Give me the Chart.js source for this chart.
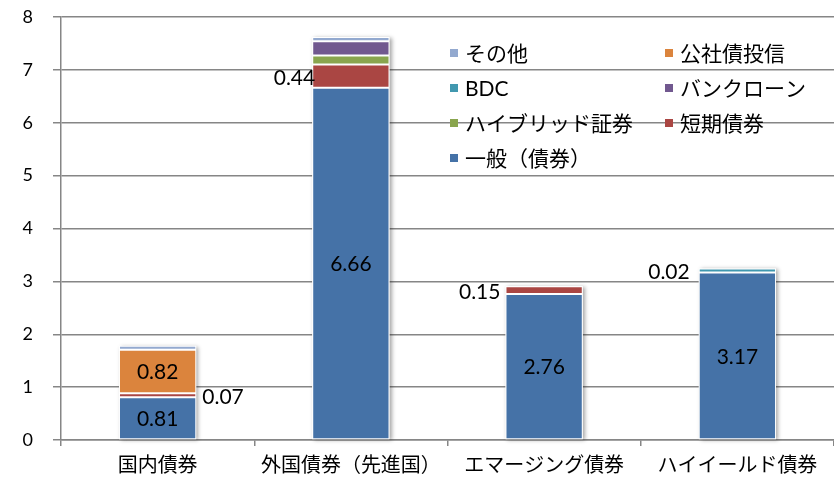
<!DOCTYPE html>
<html>
<head>
<meta charset="utf-8">
<script src="https://cdn.jsdelivr.net/npm/chart.js@4/dist/chart.umd.min.js"></script>
<style>
  html, body { margin: 0; background: #fff; }
</style>
</head>
<body>
<canvas id="chart" width="834" height="478"></canvas>
<script>
const categories = ['国内債券', '外国債券（先進国）', 'エマージング債券', 'ハイイールド債券'];

// stack order, bottom to top
const generalBond = [0.81, 6.66, 2.76, 3.17];
const shortTerm = [0.07, 0.44, 0.15, null];
const hybrid = [null, 0.17, null, null];
const bankLoan = [null, 0.27, null, null];
const bdc = [null, null, null, 0.02];
const bondFund = [0.82, null, null, null];
const others = [0.04, 0.08, null, null];

const yTicks = [0, 1, 2, 3, 4, 5, 6, 7, 8];

const FONT = "Lato, 'Noto Sans CJK JP', sans-serif";
const GRID = '#868686';

const series = [
  { label: '一般（債券）', data: generalBond, color: '#4572a7' },
  { label: '短期債券', data: shortTerm, color: '#aa4643' },
  { label: 'ハイブリッド証券', data: hybrid, color: '#89a54e' },
  { label: 'バンクローン', data: bankLoan, color: '#71588f' },
  { label: 'BDC', data: bdc, color: '#4198af' },
  { label: '公社債投信', data: bondFund, color: '#db843d' },
  { label: 'その他', data: others, color: '#93a9cf' },
];

// [series, category] labelled inside the segment
const insideLabels = [[0, 0], [5, 0], [0, 1], [0, 2], [0, 3]];
// [series, category, side, gap] labelled beside the bar
const sideLabels = [[1, 0, 'right', 6], [1, 1, 'left', -3], [1, 2, 'left', 5], [4, 3, 'left', 9]];

const fmt = (v) => v.toFixed(2);

const barShadow = {
  id: 'barShadow',
  beforeDatasetsDraw(chart) {
    const { ctx } = chart;
    const metas = chart.getSortedVisibleDatasetMetas();
    categories.forEach((_, i) => {
      let top = Infinity, base = null, x = null, w = null;
      metas.forEach((m) => {
        const el = m.data[i];
        if (!el || series[m.index].data[i] == null) return;
        top = Math.min(top, el.y);
        base = Math.max(base ?? el.base, el.base);
        x = el.x; w = el.width;
      });
      if (x == null) return;
      ctx.save();
      ctx.shadowColor = 'rgba(0,0,0,0.35)';
      ctx.shadowBlur = 4;
      ctx.shadowOffsetX = 2;
      ctx.shadowOffsetY = 1;
      ctx.fillStyle = '#fff';
      ctx.fillRect(x - w / 2, top, w, base - top);
      ctx.restore();
    });
  },
};

const valueLabels = {
  id: 'valueLabels',
  afterDatasetsDraw(chart) {
    const { ctx } = chart;
    ctx.save();
    ctx.font = `21px ${FONT}`;
    ctx.fillStyle = '#000';
    ctx.textBaseline = 'middle';
    insideLabels.forEach(([s, i]) => {
      const el = chart.getDatasetMeta(s).data[i];
      ctx.textAlign = 'center';
      ctx.fillText(fmt(series[s].data[i]), el.x, (el.y + el.base) / 2 + 1);
    });
    sideLabels.forEach(([s, i, side, gap]) => {
      const el = chart.getDatasetMeta(s).data[i];
      const cy = (el.y + el.base) / 2 + 2;
      if (side === 'right') {
        ctx.textAlign = 'left';
        ctx.fillText(fmt(series[s].data[i]), el.x + el.width / 2 + gap, cy);
      } else {
        ctx.textAlign = 'right';
        ctx.fillText(fmt(series[s].data[i]), el.x - el.width / 2 - gap, cy);
      }
    });
    ctx.restore();
  },
};

const cornerLegend = {
  id: 'cornerLegend',
  afterDraw(chart) {
    const { ctx } = chart;
    const cols = [450, 665];
    const rows = [53, 88, 123, 158];
    ctx.save();
    ctx.font = `21px ${FONT}`;
    ctx.textBaseline = 'middle';
    ctx.textAlign = 'left';
    series.slice().reverse().forEach((s, k) => {
      const x = cols[k % 2];
      const y = rows[Math.floor(k / 2)];
      ctx.fillStyle = s.color;
      ctx.fillRect(x, y - 4, 8, 8);
      ctx.fillStyle = '#000';
      ctx.fillText(s.label, x + 15, y + 1);
    });
    ctx.restore();
  },
};

new Chart(document.getElementById('chart'), {
  type: 'bar',
  data: {
    labels: categories,
    datasets: series.map((s) => ({
      label: s.label,
      data: s.data,
      backgroundColor: s.color,
      borderColor: '#fff',
      borderWidth: 1,
      borderSkipped: false,
      minBarLength: 4,
      barPercentage: 0.4,
      categoryPercentage: 1,
    })),
  },
  options: {
    responsive: false,
    animation: false,
    layout: { padding: { top: 17, right: 0, bottom: 0, left: 0 } },
    scales: {
      x: {
        stacked: true,
        grid: { drawOnChartArea: false, tickLength: 6, color: GRID, lineWidth: 1.5 },
        border: { color: GRID, width: 1.5 },
        ticks: { font: { family: FONT, size: 20 }, color: '#000', padding: 8, maxRotation: 0 },
        afterFit(scale) {
          scale.height = 38;
          scale.paddingLeft = 0;
          scale.paddingRight = 0;
        },
      },
      y: {
        stacked: true,
        min: yTicks[0],
        max: yTicks[yTicks.length - 1],
        afterBuildTicks(scale) { scale.ticks = yTicks.map((v) => ({ value: v })); },
        grid: { color: GRID, lineWidth: 1.5, tickLength: 8 },
        border: { color: GRID, width: 1.5 },
        ticks: { font: { family: FONT, size: 18 }, color: '#000', padding: 20 },
        afterFit(scale) {
          scale.width = 61;
          scale.paddingTop = 0;
          scale.paddingBottom = 0;
        },
      },
    },
    plugins: {
      legend: { display: false },
      tooltip: { enabled: false },
    },
  },
  plugins: [barShadow, valueLabels, cornerLegend],
});
</script>
</body>
</html>
